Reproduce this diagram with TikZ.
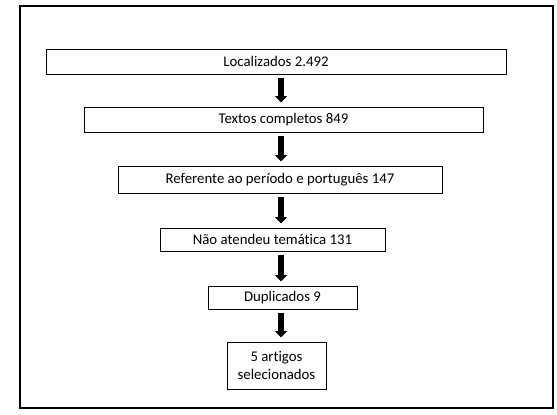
\documentclass[tikz,border=0pt]{standalone}
\usepackage{fontspec}
\setmainfont[Ligatures={NoCommon,NoRequired,NoContextual}]{Carlito}
\usetikzlibrary{arrows.meta}
\begin{document}
\begin{tikzpicture}[x=1pt,y=-1pt,
  stepbox/.style={draw,line width=1pt,inner sep=0pt,align=center,
    font=\fontsize{14.8}{18}\selectfont},
  bigarrow/.style={line width=5.5pt,-{Triangle[width=12pt,length=6.5pt]},
    shorten <=3pt,shorten >=4pt}]
\useasboundingbox (0,0) rectangle (557,415);
\fill[white] (0,0) rectangle (557,415);
\draw[line width=1.2pt] (20,6) rectangle (553,408);
\coordinate (ax) at (281,0);
\node[stepbox,minimum width=460pt,minimum height=25pt] (b1) at (276,61.5) {Localizados 2.492};
\node[stepbox,minimum width=399pt,minimum height=25pt] (b2) at (283.5,119.5) {Textos completos 849};
\node[stepbox,minimum width=324pt,minimum height=27pt] (b3) at (280,179.5) {Referente ao período e português 147};
\node[stepbox,minimum width=225pt,minimum height=23pt] (b4) at (272.5,239.5) {Não atendeu temática 131};
\node[stepbox,minimum width=149pt,minimum height=23pt] (b5) at (282.5,297.5) {Duplicados 9};
\node[stepbox,minimum width=99pt,minimum height=47pt] (b6) at (276.5,365.5) {5 artigos\\selecionados};
\draw[bigarrow] (b1.south -| ax) -- (b2.north -| ax);
\draw[bigarrow] (b2.south -| ax) -- (b3.north -| ax);
\draw[bigarrow] (b3.south -| ax) -- (b4.north -| ax);
\draw[bigarrow] (b4.south -| ax) -- (b5.north -| ax);
\draw[bigarrow] (b5.south -| ax) -- (b6.north -| ax);
\end{tikzpicture}
\end{document}
